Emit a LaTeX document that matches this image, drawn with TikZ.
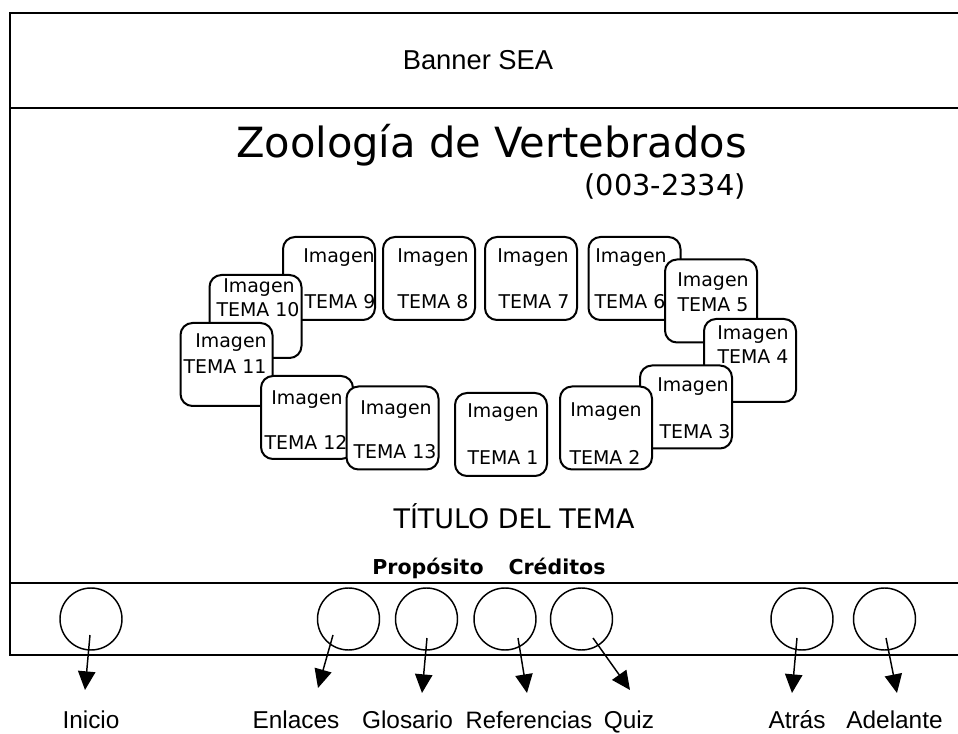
\documentclass[tikz,border=0pt]{standalone}
\usepackage{fontspec}
\setmainfont{DejaVu Sans}
\newfontfamily\arialf{Liberation Sans}
\usetikzlibrary{arrows.meta,calc}
\begin{document}
\begin{tikzpicture}[x=0.75pt,y=-0.75pt,
  frame/.style={line width=1.6pt},
  card/.style={draw, line width=1.5pt, rounded corners=9pt, fill=white,
    minimum width=69pt, minimum height=62.25pt, inner sep=0pt},
  ctext/.style={font=\fontsize{14.2}{16}\selectfont, inner sep=0pt},
  btn/.style={draw, circle, line width=1.1pt, minimum size=46.5pt, inner sep=0pt},
  lab/.style={font=\arialf\fontsize{18.3}{20}\selectfont, anchor=base, inner sep=0pt},
  arr/.style={line width=1.1pt, -{Triangle[length=14pt,width=13pt]}},
]
\useasboundingbox (0,0) rectangle (958,734);
% frame
\draw[frame] (958,12.7) -- (10,12.7) -- (10,655) -- (958,655);
\draw[frame] (10,108) -- (958,108);
\draw[frame] (10,583) -- (958,583);
% header texts
\node[font=\arialf\fontsize{20.5}{22}\selectfont, anchor=base, inner sep=0pt] (banner) at (478,70) {Banner SEA};
\node[font=\fontsize{31.2}{34}\selectfont, anchor=base east, inner sep=0pt] (title) at (747,158) {Zoología de Vertebrados};
\node[font=\fontsize{21.6}{24}\selectfont, anchor=base east, inner sep=0pt] (code) at (746,196) {(003-2334)};
% cards, drawn back to front
\newcommand\tcard[5]{%
  \node[card] (#1) at (#2) {};
  \node[ctext] (#1i) at (#3) {Imagen};
  \node[ctext] (#1t) at (#4) {#5};
}
\tcard{t9}{329,278.5}{339,258}{340,302}{TEMA 9}
\tcard{t10}{255.5,316.5}{259,288}{258,310}{TEMA 10}
\tcard{t11}{226.5,364.5}{231,343}{225,367}{TEMA 11}
\tcard{t12}{307,417.5}{307,400}{306,442}{TEMA 12}
\tcard{t13}{392.5,428}{396,410}{395,452}{TEMA 13}
\tcard{t8}{429,278.5}{433,258}{433,302}{TEMA 8}
\tcard{t7}{531,278.5}{533,258}{534,302}{TEMA 7}
\tcard{t6}{634.5,278.5}{631,258}{630,302}{TEMA 6}
\tcard{t5}{711,301}{713,282}{713,305}{TEMA 5}
\tcard{t4}{750,360.5}{753,335}{753,357}{TEMA 4}
\tcard{t3}{686,407}{693,387}{695,432}{TEMA 3}
\tcard{t2}{606,428}{606,412}{605,457}{TEMA 2}
\tcard{t1}{501,434.5}{503,413}{503,458}{TEMA 1}
% title of topic and menu
\node[font=\fontsize{20.2}{22}\selectfont, anchor=base, inner sep=0pt] (tt) at (514,528) {TÍTULO DEL TEMA};
\node[font=\bfseries\fontsize{15.4}{18}\selectfont, anchor=base, inner sep=0pt] (prop) at (428,575) {Propósito};
\node[font=\bfseries\fontsize{15.4}{18}\selectfont, anchor=base, inner sep=0pt] (cred) at (557,575) {Créditos};
% buttons
\node[btn] (b1) at (91,619) {};
\node[btn] (b2) at (348.5,619) {};
\node[btn] (b3) at (426.5,619) {};
\node[btn] (b4) at (505,619) {};
\node[btn] (b5) at (581.5,619) {};
\node[btn] (b6) at (802,619) {};
\node[btn] (b7) at (884.5,619) {};
% labels
\node[lab] (l1) at (91,728) {Inicio};
\node[lab] (l2) at (296,728) {Enlaces};
\node[lab] (l3) at (407.5,728) {Glosario};
\node[lab, font=\arialf\fontsize{17.8}{20}\selectfont] (l4) at (529,728) {Referencias};
\node[lab] (l5) at (629,728) {Quiz};
\node[lab] (l6) at (797,728) {Atrás};
\node[lab] (l7) at (894.5,728) {Adelante};
% arrow tips
\coordinate (e1) at (85,690);
\coordinate (e2) at (318,688);
\coordinate (e3) at (422,693);
\coordinate (e4) at (527,693);
\coordinate (e5) at (630,690);
\coordinate (e6) at (792,693);
\coordinate (e7) at (897,693);
\draw[arr] ($(b1)+(-1,16)$) -- (e1);
\draw[arr] ($(b2)+(-15.5,16)$) -- (e2);
\draw[arr] ($(b3)+(0.5,19)$) -- (e3);
\draw[arr] ($(b4)+(13,19)$) -- (e4);
\draw[arr] ($(b5)+(11.5,19)$) -- (e5);
\draw[arr] ($(b6)+(-5,19)$) -- (e6);
\draw[arr] ($(b7)+(1.5,19)$) -- (e7);
\end{tikzpicture}
\end{document}
